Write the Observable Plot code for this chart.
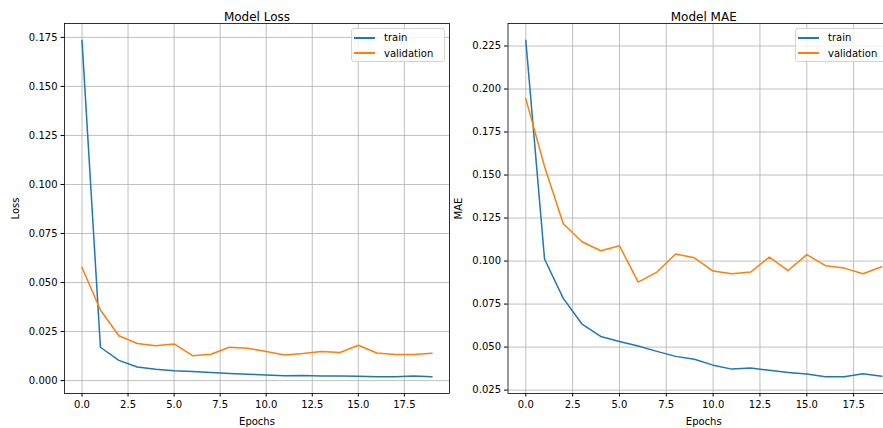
<!DOCTYPE html>
<html>
<head>
<meta charset="utf-8">
<script src="https://cdn.jsdelivr.net/npm/d3@7"></script>
<script src="https://cdn.jsdelivr.net/npm/@observablehq/plot@0.6"></script>
<style>
  html, body { margin: 0; padding: 0; background: #fff; }
  #fig { position: relative; width: 883px; height: 428px; overflow: hidden; font-family: "DejaVu Sans", sans-serif; }
  #fig .panel { position: absolute; top: 0; }
  .legend { position: absolute; top: 28px; width: 94px; height: 34px; box-sizing: border-box;
            background: rgba(255,255,255,0.8); border: 1px solid #d4d4d4; border-radius: 3px;
            font-size: 10px; color: #000; }
  .legend .swatch { position: absolute; left: 2px; width: 21px; height: 2px; }
  .legend .name { position: absolute; left: 32px; height: 13px; line-height: 13px; white-space: nowrap; }
</style>
</head>
<body>
<div id="fig"></div>
<script>
// Training history: 20 epochs
const epochs = [0, 1, 2, 3, 4, 5, 6, 7, 8, 9, 10, 11, 12, 13, 14, 15, 16, 17, 18, 19];

const lossTrain = [0.1735, 0.0170, 0.0103, 0.0069, 0.0058, 0.0050, 0.0046, 0.0041, 0.0036, 0.0033,
                   0.0028, 0.0025, 0.0026, 0.0024, 0.0023, 0.0022, 0.0020, 0.0020, 0.0023, 0.0020];
const lossVal   = [0.0577, 0.0360, 0.0229, 0.0189, 0.0178, 0.0187, 0.0127, 0.0134, 0.0170, 0.0165,
                   0.0148, 0.0131, 0.0138, 0.0149, 0.0143, 0.0180, 0.0141, 0.0133, 0.0133, 0.0139];

const maeTrain  = [0.2283, 0.1012, 0.0783, 0.0634, 0.0562, 0.0533, 0.0506, 0.0475, 0.0446, 0.0429,
                   0.0395, 0.0372, 0.0378, 0.0365, 0.0353, 0.0343, 0.0328, 0.0328, 0.0345, 0.0330];
const maeVal    = [0.1944, 0.1550, 0.1217, 0.1112, 0.1060, 0.1089, 0.0878, 0.0936, 0.1041, 0.1019,
                   0.0942, 0.0926, 0.0936, 0.1023, 0.0945, 0.1037, 0.0973, 0.0959, 0.0926, 0.0967];

const xTicks = [0, 2.5, 5, 7.5, 10, 12.5, 15, 17.5];
const lossTicks = [0, 0.025, 0.05, 0.075, 0.1, 0.125, 0.15, 0.175];
const maeTicks = [0.025, 0.05, 0.075, 0.1, 0.125, 0.15, 0.175, 0.2, 0.225];

const seriesNames = ["train", "validation"];
const seriesColors = ["#1f77b4", "#ff7f0e"];

// Pad a domain by 5% of its span on each side
function padded(values, frac = 0.05) {
  const [lo, hi] = d3.extent(values);
  const p = (hi - lo) * frac;
  return [lo - p, hi + p];
}
const xPad = (epochs[epochs.length - 1] - epochs[0]) * 0.05;

function panel({title, label, train, val, yTicks, left, width, marginLeft, marginRight}) {
  const rows = (vals, s) => vals.map((v, i) => ({epoch: epochs[i], value: v, series: s}));
  const data = [...rows(train, seriesNames[0]), ...rows(val, seriesNames[1])];
  const chart = Plot.plot({
    width, height: 428,
    marginLeft, marginRight, marginTop: 23, marginBottom: 35,
    style: {fontFamily: "DejaVu Sans, sans-serif", fontSize: "10px", color: "#000", background: "white", overflow: "visible"},
    x: {domain: [epochs[0] - xPad, epochs[epochs.length - 1] + xPad]},
    y: {domain: padded([...train, ...val])},
    color: {domain: seriesNames, range: seriesColors},
    marks: [
      Plot.gridX(xTicks, {stroke: "#b0b0b0", strokeOpacity: 1, strokeWidth: 0.8}),
      Plot.gridY(yTicks, {stroke: "#b0b0b0", strokeOpacity: 1, strokeWidth: 0.8}),
      Plot.line(data, {x: "epoch", y: "value", z: "series", stroke: "series", strokeWidth: 1.5}),
      Plot.frame({stroke: "#000", strokeWidth: 0.8}),
      Plot.axisX({ticks: xTicks, tickFormat: d3.format(".1f"), tickSize: 3.5, tickPadding: 3.5,
                  label: "Epochs", labelAnchor: "center", labelArrow: "none", labelOffset: 31}),
      Plot.axisY({ticks: yTicks, tickFormat: d3.format(".3f"), tickSize: 3.5, tickPadding: 3.5,
                  label, labelAnchor: "center", labelArrow: "none", labelOffset: 53}),
      Plot.text([title], {frameAnchor: "top", dy: -11, fontSize: 12})
    ]
  });
  chart.classList.add("panel");
  chart.style.left = left + "px";
  return chart;
}

function legend(left) {
  const box = document.createElement("div");
  box.className = "legend";
  box.style.left = left + "px";
  seriesNames.forEach((name, i) => {
    const sw = document.createElement("div");
    sw.className = "swatch";
    sw.style.background = seriesColors[i];
    sw.style.top = (7.5 + i * 15.6) + "px";
    const tx = document.createElement("div");
    tx.className = "name";
    tx.style.top = (2 + i * 15.6) + "px";
    tx.textContent = name;
    box.append(sw, tx);
  });
  return box;
}

const fig = document.getElementById("fig");
fig.append(
  panel({title: "Model Loss", label: "Loss", train: lossTrain, val: lossVal, yTicks: lossTicks,
         left: 0, width: 455, marginLeft: 64, marginRight: 6}),
  panel({title: "Model MAE", label: "MAE", train: maeTrain, val: maeVal, yTicks: maeTicks,
         left: 450, width: 455, marginLeft: 57.5, marginRight: 6}),
  legend(351),
  legend(795)
);
</script>
</body>
</html>
